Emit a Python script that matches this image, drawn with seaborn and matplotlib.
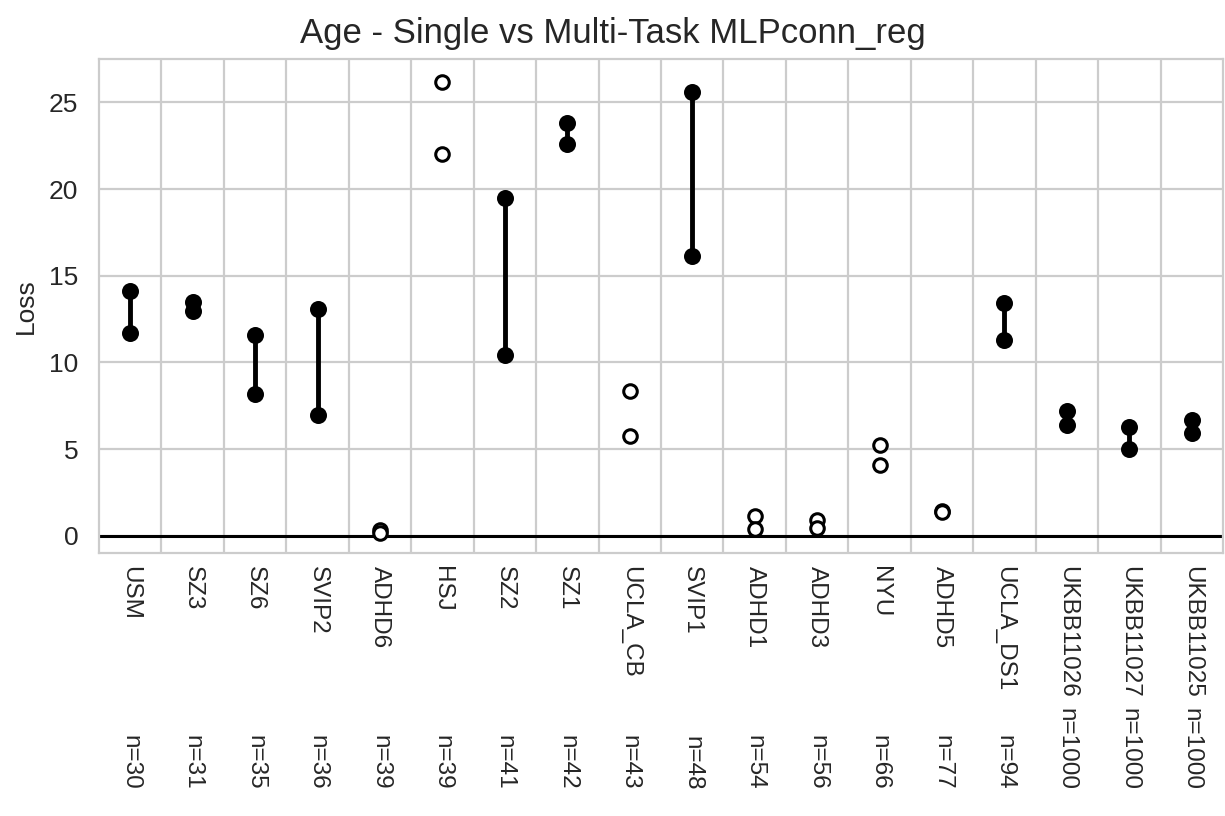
import numpy as np
import pandas as pd
import matplotlib
matplotlib.use("Agg")
import matplotlib.pyplot as plt
import seaborn as sns

datasets = ["USM", "SZ3", "SZ6", "SVIP2", "ADHD6", "HSJ", "SZ2", "SZ1", "UCLA_CB",
            "SVIP1", "ADHD1", "ADHD3", "NYU", "ADHD5", "UCLA_DS1", "UKBB11026",
            "UKBB11027", "UKBB11025"]
n_subjects = [30, 31, 35, 36, 39, 39, 41, 42, 43, 48, 54, 56, 66, 77, 94, 1000, 1000, 1000]
loss_a = [14.1, 13.5, 11.6, 13.1, 0.35, 26.2, 19.5, 23.8, 8.35, 25.6, 1.15, 0.9, 5.25, 1.45,
          13.45, 7.2, 6.25, 6.7]
loss_b = [11.7, 12.95, 8.2, 6.95, 0.15, 22.0, 10.45, 22.6, 5.75, 16.15, 0.4, 0.45, 4.05, 1.35,
          11.3, 6.38, 4.98, 5.93]
significant = [True, True, True, True, False, False, True, True, False, True, False, False,
               False, False, True, True, True, True]

sns.set_theme(style="whitegrid")
plt.rcParams['font.family'] = ['Liberation Sans', 'DejaVu Sans']

rows = []
for i, (d, a, b, s) in enumerate(zip(datasets, loss_a, loss_b, significant)):
    rows.append(dict(dataset=d, pos=i, model="Single", loss=a, sig=s))
    rows.append(dict(dataset=d, pos=i, model="Multi", loss=b, sig=s))
df = pd.DataFrame(rows)
df_sig = df[df.sig]
df_ns = df[~df.sig]

fig = plt.figure(figsize=(12.25, 8.16), dpi=100)
ax = fig.add_axes([99 / 1225, 1 - 553 / 816, (1223 - 99) / 1225, (553 - 59) / 816])

ax.axhline(0, color="black", lw=2.2, zorder=1)

sns.lineplot(data=df_sig, x="pos", y="loss", units="dataset", estimator=None,
             color="black", lw=3.5, sort=False, ax=ax, legend=False, zorder=2)
sns.scatterplot(data=df_sig, x="pos", y="loss", color="black", s=150,
                edgecolor="black", linewidth=0, ax=ax, legend=False, zorder=3)
sns.scatterplot(data=df_ns, x="pos", y="loss", color="white", s=95,
                edgecolor="black", linewidth=2.2, ax=ax, legend=False, zorder=3)

ax.set_xlim(-0.5, len(datasets) - 0.5)
ax.set_xticks(np.arange(len(datasets)))
ax.set_xticklabels(datasets, rotation=270, fontsize=17.5)
ax.set_xticks(np.arange(len(datasets) - 1) + 0.5, minor=True)
ax.grid(False, axis="x", which="major")
ax.grid(True, axis="x", which="minor", color=".8", lw=1.6)
ax.grid(True, axis="y", which="major", color=".8", lw=1.6)
ax.tick_params(axis="x", which="both", length=0, pad=9)
ax.tick_params(axis="y", labelsize=19, length=0, pad=15)
ax.set_yticks([0, 5, 10, 15, 20, 25])
ax.set_ylim(-1.0, 27.5)
ax.set_xlabel("")
ax.set_ylabel("Loss", fontsize=19, labelpad=8)
for sp in ax.spines.values():
    sp.set_color(".8")
    sp.set_linewidth(1.6)

trans = ax.get_xaxis_transform()
for i, n in enumerate(n_subjects):
    ax.text(i, (553 - 790) / (553 - 59), f"n={n}", rotation=270, ha="center",
            va="bottom", fontsize=17.5, transform=trans, color=".15")

fig.suptitle("Age - Single vs Multi-Task MLPconn_reg", fontsize=25, y=1 - 33 / 816,
             va="center")

fig.savefig("out.png", dpi=100)
